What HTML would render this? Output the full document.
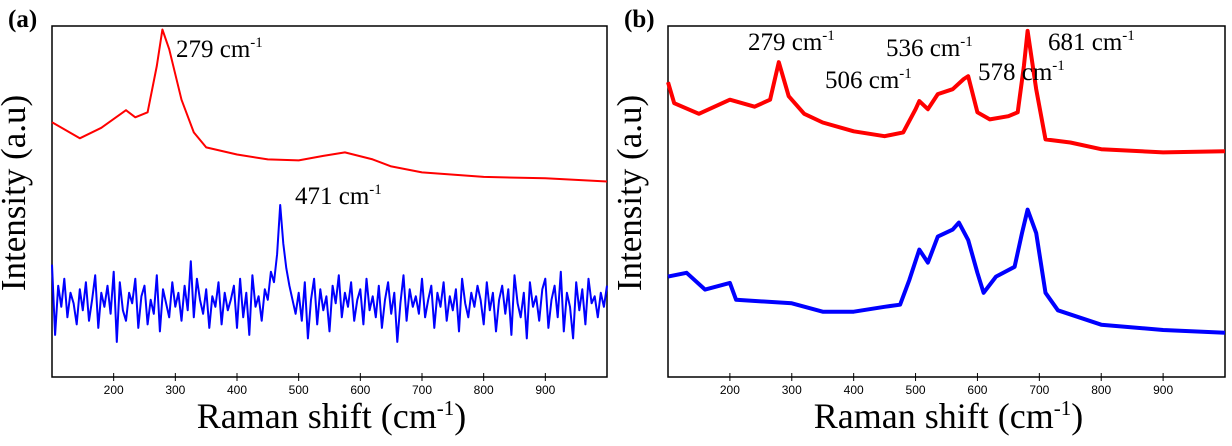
<!DOCTYPE html>
<html><head><meta charset="utf-8"><style>
html,body{margin:0;padding:0;background:#fff;}
svg{display:block;}
.tick{font-family:"Liberation Sans",sans-serif;font-size:12px;fill:#000;}
.ser{font-family:"Liberation Serif",serif;fill:#000;}
</style></head><body>
<svg id="chart" width="1232" height="446" viewBox="0 0 1232 446" xmlns="http://www.w3.org/2000/svg">
<g id="pa"></g>
<g id="pb"></g>
</svg>
<script>
// Panel (a) data
const aRedX = [100,145,180,220,235,255,270,279,290,310,330,350,400,450,500,540,575,620,650,700,800,900,1000];
const aRedY = [72.6,68,71,76,74,75.4,88.6,99,93.4,79,69.7,65.4,63.4,62,61.7,63,64,62,60,58.3,57,56.6,55.7];
const aBlueStart = 100, aBlueStep = 5;
const aBlueY = [32,12,26,20,28,17,24,21,15,25,19,27,16,22,29,14,24,20,26,18,
30,10,27,19,16,24,21,28,14,23,26,15,22,18,29,13,25,21,17,27,
20,24,16,26,19,33,17,28,22,18,25,14,23,20,27,15,24,19,22,26,
14,28,17,24,12,29,20,23,16,25,22,30,27,35,49,38,31,26,22,18,
24,16,27,11,22,28,15,25,19,23,13,26,21,29,17,24,20,27,16,22,
25,15,28,19,23,17,26,14,22,27,18,24,10,21,29,16,25,20,23,18,
28,17,22,26,14,24,20,27,16,23,19,25,13,28,21,17,24,20,26,22,
15,27,19,24,13,22,26,18,25,12,29,21,17,24,11,27,20,23,16,25,
28,14,22,26,17,30,13,24,20,11,27,19,25,15,28,21,23,17,24,20,26];
// Panel (b) data
const bRedX = [100,110,150,200,240,265,279,295,320,350,400,450,480,500,506,520,536,560,578,585,600,620,650,665,675,681,695,710,750,800,900,1000];
const bRedY = [84,78,75,79,77,79,89.7,80,75,72.5,70,68.6,69.7,76.3,78.6,76.3,80.6,82,84.9,85.7,75.4,73.4,74.3,75.4,88.6,98.6,82,67.7,66.8,64.9,64,64.3];
const bBlueX = [100,130,160,200,210,300,350,400,450,475,490,506,520,536,560,570,585,600,610,630,660,672,681,695,710,730,800,900,1000];
const bBlueY = [28.6,29.7,24.9,26.8,22,21,18.6,18.6,20,20.6,27.7,36.3,32.6,40,42,44,39,29.7,24,28.6,31.4,41,47.7,41,24,19,14.9,13.4,12.6];
const xTicks = [200,300,400,500,600,700,800,900];
const aLabels = [{t:"279",x:176,y:57},{t:"471",x:295,y:204}];
const bLabels = [{t:"279",x:748,y:50},{t:"506",x:825,y:88},{t:"536",x:886,y:56},{t:"578",x:978,y:80},{t:"681",x:1048,y:50}];

const NS = "http://www.w3.org/2000/svg";
function mk(tag, attrs, parent){const e=document.createElementNS(NS,tag);for(const k in attrs)e.setAttribute(k,attrs[k]);parent.appendChild(e);return e;}

function panel(g, L, R, letter, series, labels){
  const T=26,B=377;
  const sx = v => L + (v-100)/900*(R-L);
  const sy = v => B - v/100*(B-T);
  const box = mk('rect',{x:L,y:T,width:R-L,height:B-T,fill:'none',stroke:'#000','stroke-width':1.5},g);
  
  
  xTicks.forEach(t=>{
    const ln = mk('line',{x1:sx(t),x2:sx(t),y1:B-4,y2:B+4,stroke:'#000','stroke-width':1},g);
    
    
    const tx = mk('text',{x:sx(t),y:394,'text-anchor':'middle',class:'tick'},g);
    tx.textContent=t;
    
    
  });
  series.forEach(s=>{
    let d='';
    s.y.forEach((v,i)=>{const xv = s.x ? s.x[i] : s.start + i*s.step; d += (i?'L':'M')+sx(xv).toFixed(1)+','+sy(v).toFixed(1);});
    const p = mk('path',{d:d,fill:'none',stroke:s.c,'stroke-width':s.w,'stroke-linejoin':'round'},g);
    
    
  });
  labels.forEach(l=>{
    const tx = mk('text',{x:l.x,y:l.y,class:'ser','font-size':25},g);
    tx.innerHTML = l.t+' cm<tspan dy="-10" font-size="15">-1</tspan>';
    
    
  });
  const xt = mk('text',{x:(L+R)/2+2,y:428,'text-anchor':'middle',class:'ser','font-size':36},g);
  xt.innerHTML='Raman shift (cm<tspan dy="-13" font-size="21">-1</tspan><tspan dy="13">)</tspan>';
  
  
  const cx = L-27;
  const yt = mk('text',{x:cx,y:193,'text-anchor':'middle',class:'ser','font-size':35,transform:'rotate(-90 '+cx+' 193)'},g);
  yt.textContent='Intensity (a.u)';
  
  
  const pl = mk('text',{x:L-44,y:27,class:'ser','font-size':25,'font-weight':'bold'},g);
  pl.textContent='('+letter+')';
  
  
}
panel(document.getElementById('pa'),52,607,'a',[
  {x:aRedX,y:aRedY,c:'#ff0000',w:2,name:'red-spectrum-a'},
  {start:aBlueStart,step:aBlueStep,y:aBlueY,c:'#0000ff',w:2,name:'blue-spectrum-a'}
],aLabels);
panel(document.getElementById('pb'),668,1225,'b',[
  {x:bRedX,y:bRedY,c:'#ff0000',w:4,name:'red-spectrum-b'},
  {x:bBlueX,y:bBlueY,c:'#0000ff',w:4,name:'blue-spectrum-b'}
],bLabels);
</script>
</body></html>
